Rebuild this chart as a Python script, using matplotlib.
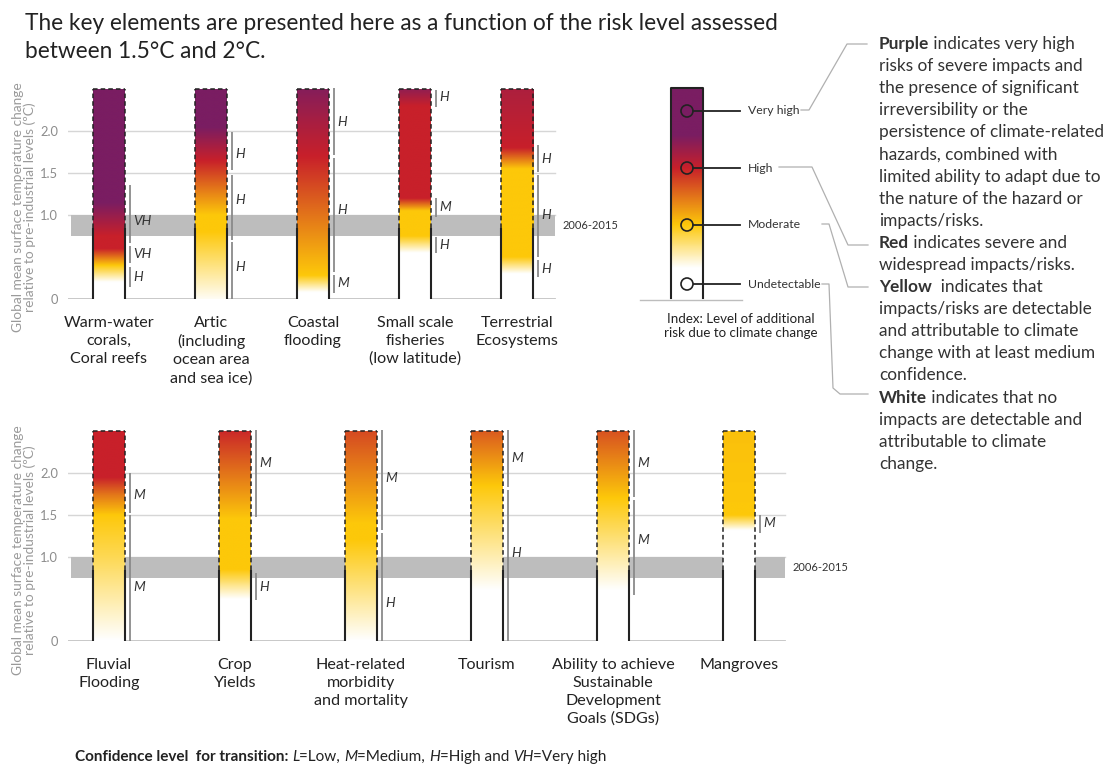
import numpy as np
import matplotlib
matplotlib.use('Agg')
import matplotlib.pyplot as plt
from matplotlib.colors import LinearSegmentedColormap
from matplotlib.patches import Circle

plt.rcParams['font.family'] = ['Lato', 'DejaVu Sans']

#-----------------------------------------------------------------------------------------------------------------------------------
# values
# risk level: 0 = white (undetectable), 1 = yellow (moderate), 2 = red (high), 3 = purple (very high)

risk_colors = ['#ffffff', '#fdc80a', '#c8202a', '#7a1d62']
risk_names = ['Undetectable', 'Moderate', 'High', 'Very high']

top_names = ['Warm-water\ncorals,\nCoral reefs', 'Artic\n(including\nocean area\nand sea ice)',
             'Coastal\nflooding', 'Small scale\nfisheries\n(low latitude)', 'Terrestrial\nEcosystems']
top_temp = [[0, 0.2, 0.4, 0.6, 0.75, 1.15, 2.5],
            [0, 0.8, 1.0, 1.65, 2.05, 2.5],
            [0, 0.08, 0.28, 0.5, 1.0, 1.7, 2.1, 2.5],
            [0, 0.55, 0.75, 1.05, 1.2, 2.3, 2.5],
            [0, 0.3, 0.5, 1.55, 1.8, 2.5]]
top_level = [[0, 0, 1, 2, 2, 3, 3],
             [0.05, 1, 1, 2, 3, 3],
             [0, 0, 1, 1.15, 1.5, 2, 2.4, 2.85],
             [0, 0, 1, 1, 2, 2, 2.7],
             [0, 0, 1, 1, 2, 2.35]]
# confidence of each transition: (from, to, label, label at)
top_conf = [[(0.67, 1.36, 'VH', 0.93), (0.43, 0.63, 'VH', 0.53), (0.14, 0.38, 'H', 0.26)],
            [(1.54, 1.99, 'H', 1.73), (0.70, 1.48, 'H', 1.18), (0.0, 0.68, 'H', 0.38)],
            [(1.71, 2.51, 'H', 2.11), (0.32, 1.68, 'H', 1.06), (0.07, 0.29, 'M', 0.19)],
            [(2.29, 2.49, 'H', 2.4), (0.98, 1.20, 'M', 1.09), (0.55, 0.74, 'H', 0.64)],
            [(1.51, 1.83, 'H', 1.67), (0.50, 1.48, 'H', 1.0), (0.26, 0.46, 'H', 0.36)]]

bot_names = ['Fluvial\nFlooding', 'Crop\nYields', 'Heat-related\nmorbidity\nand mortality', 'Tourism',
             'Ability to achieve\nSustainable\nDevelopment\nGoals (SDGs)', 'Mangroves']
bot_temp = [[0, 0.5, 1.0, 1.5, 1.75, 1.95, 2.5],
            [0, 0.5, 0.85, 1.45, 2.0, 2.5],
            [0, 1.2, 1.4, 2.5],
            [0, 0.6, 1.85, 2.5],
            [0, 0.6, 1.7, 2.5],
            [0, 1.32, 1.5, 2.5]]
bot_level = [[0, 0.35, 0.7, 1, 1.5, 2, 2],
             [0, 0, 1, 1, 1.5, 1.95],
             [0, 1, 1, 1.75],
             [0, 0, 1, 1.65],
             [0, 0, 1, 1.7],
             [0, 0, 1, 1.05]]
bot_conf = [[(1.52, 2.0, 'M', 1.74), (0.0, 1.50, 'M', 0.64)],
            [(1.48, 2.51, 'M', 2.12), (0.49, 0.81, 'H', 0.64)],
            [(1.32, 2.51, 'M', 1.94), (0.0, 1.29, 'H', 0.45)],
            [(1.83, 2.51, 'M', 2.18), (0.0, 1.80, 'H', 1.05)],
            [(1.71, 2.51, 'M', 2.12), (0.55, 1.68, 'M', 1.2)],
            [(1.29, 1.50, 'M', 1.4)]]

ref_band = (0.75, 1.0)        # 2006-2015 warming
ref_label = '2006-2015'
solid_below = 0.85            # outline solid below, dashed above
bar_top = 2.5
yticks = [0, 1.0, 1.5, 2.0]
yticklabels = ['0', '1.0', '1.5', '2.0']

#-----------------------------------------------------------------------------------------------------------------------------------

W, H = 1105, 767
PXDEG = 84.0
YMAX = 2.6
cmap = LinearSegmentedColormap.from_list('risk', risk_colors)
dash = (0, (3, 2))

fig = plt.figure(figsize=(W / 100, H / 100), dpi=100)
ov = fig.add_axes([0, 0, 1, 1])
ov.set_xlim(0, W)
ov.set_ylim(H, 0)
ov.axis('off')


def panel(left, right, zero, x0, spacing, band_right, names, temp, level, conf):
    ax = fig.add_axes([left / W, (H - zero) / H, (right - left) / W, YMAX * PXDEG / H])
    xl, xr = (left - x0) / spacing, (right - x0) / spacing
    px = 1.0 / spacing
    bw = 32 * px
    br = (band_right - x0) / spacing
    for g in yticks[1:]:
        ax.plot([xl, br], [g, g], color='#d6d6d6', lw=1, zorder=0)
    ax.plot([xl, br], [0, 0], color='#c4c4c4', lw=1.3, zorder=0)
    ax.fill_between([xl + 3 * px, br], ref_band[0], ref_band[1], color='#bdbdbd', lw=0, zorder=1)
    ax.text(br + 8 * px, np.mean(ref_band), ref_label, fontsize=8, color='#333333', va='center', ha='left')
    t = np.linspace(0, bar_top, 600)
    for i in range(len(names)):
        lv = np.interp(t, temp[i], level[i])
        ax.imshow(lv[:, None], extent=(i - bw / 2, i + bw / 2, 0, bar_top), origin='lower', aspect='auto',
                  cmap=cmap, vmin=0, vmax=3, zorder=2, interpolation='bilinear')
        for xe in (i - bw / 2, i + bw / 2):
            ax.plot([xe, xe], [0, solid_below], color='#222222', lw=1.5, zorder=3, solid_capstyle='butt')
            ax.plot([xe, xe], [solid_below, bar_top], color='#222222', lw=1.1, ls=dash, zorder=3)
        ax.plot([i - bw / 2, i + bw / 2], [bar_top, bar_top], color='#222222', lw=1.1, ls=dash, zorder=3)
        xc = i + bw / 2 + 5 * px
        for lo, hi, lab, at in conf[i]:
            ax.plot([xc, xc], [lo, hi], color='#8a8a8a', lw=1.3, zorder=3, solid_capstyle='butt')
            ax.text(xc + 3 * px, at, lab, style='italic', fontsize=9.8, color='#333333', va='center', ha='left')
        ax.text(i, -0.2, names[i], ha='center', va='top', fontsize=11.6, color='#222222', linespacing=1.36)
    ax.set_xlim(xl, xr)
    ax.set_ylim(0, YMAX)
    ax.set_xticks([])
    ax.set_yticks(yticks)
    ax.set_yticklabels(yticklabels)
    ax.tick_params(axis='y', length=0, pad=7, labelcolor='#8c8c8c', labelsize=9.3)
    for s in ax.spines.values():
        s.set_visible(False)
    ax.patch.set_alpha(0)
    return ax


panel(68, 560, 299, 109, 102, 555, top_names, top_temp, top_level, top_conf)
panel(68, 790, 641, 109, 126, 785, bot_names, bot_temp, bot_level, bot_conf)

ylab = 'Global mean surface temperature change\nrelative to pre-industrial levels (ºC)'
for yc in (207, 550):
    ov.text(24, yc, ylab, rotation=90, ha='center', va='center', fontsize=9.9, color='#9a9a9a', linespacing=1.0)

# legend: index bar
leg_y = np.linspace(88, 298, 400)
leg_lv = np.interp(leg_y, [88, 135, 168, 225, 268, 298], [3, 3, 2, 1, 0, 0])
ov.imshow(leg_lv[:, None], extent=(671, 703, 298, 88), origin='upper', aspect='auto', cmap=cmap, vmin=0, vmax=3,
          interpolation='bilinear', zorder=2)
ov.plot([671, 671, 703, 703], [298, 88, 88, 298], color='#222222', lw=1.5, zorder=3)
circle_y = [284, 225, 168, 111]
for k in range(4):
    y = circle_y[k]
    ov.add_patch(Circle((687, y), 6, fill=(k == 0), fc='white', ec='#222222', lw=1.2, zorder=4))
    ov.plot([693, 740], [y, y], color='#222222', lw=1.3, zorder=3)
    ov.text(748, y, risk_names[k], fontsize=8.8, color='#333333', va='center', ha='left')
ov.plot([640, 742], [300, 300], color='#bdbdbd', lw=1)
ov.text(741, 326, 'Index: Level of additional\nrisk due to climate change', fontsize=9.6, color='#222222',
        ha='center', va='center', linespacing=1.2)

leaders = [[(801, 110), (809, 110), (847, 44), (867, 44)],
           [(779, 167), (812, 167), (848, 245), (868, 245)],
           [(822, 224), (829, 224), (848, 287), (868, 287)],
           [(822, 284), (829, 284), (833, 388), (840, 394), (868, 394)]]
for pl in leaders:
    xs, ys = zip(*pl)
    ov.plot(xs, ys, color='#b0b0b0', lw=0.9)

r = fig.canvas.get_renderer()


def width(s, **kw):
    a = ov.text(0, 0, s + '|', **kw)
    b = ov.text(0, 0, '|', **kw)
    w = a.get_window_extent(renderer=r).width - b.get_window_extent(renderer=r).width
    a.remove()
    b.remove()
    return w


def rich(x, y, parts, **kw):
    for s, wgt, sty in parts:
        ov.text(x, y, s, fontweight=wgt, style=sty, **kw)
        x += width(s, fontweight=wgt, style=sty, **kw)


right_lines = [('Purple', ' indicates very high'), 'risks of severe impacts and', 'the presence of significant',
               'irreversibility or the', 'persistence of climate-related', 'hazards, combined with',
               'limited ability to adapt due to', 'the nature of the hazard or', 'impacts/risks.',
               ('Red', ' indicates severe and'), 'widespread impacts/risks.', ('Yellow', '  indicates that'),
               'impacts/risks are detectable', 'and attributable to climate', 'change with at least medium',
               'confidence.', ('White', ' indicates that no'), 'impacts are detectable and',
               'attributable to climate', 'change.']
tkw = dict(fontsize=12.4, color='#333333', va='center', ha='left')
for j, ln in enumerate(right_lines):
    y = 44 + 22.1 * j
    if isinstance(ln, tuple):
        rich(879, y, [(ln[0], 'bold', 'normal'), (ln[1], 'normal', 'normal')], **tkw)
    else:
        ov.text(879, y, ln, **tkw)

ov.text(25, 23, 'The key elements are presented here as a function of the risk level assessed',
        fontsize=16.3, color='#222222', va='center', ha='left')
ov.text(25, 51, 'between 1.5°C and 2°C.', fontsize=16.3, color='#222222', va='center', ha='left')

fkw = dict(fontsize=11, color='#222222', va='center', ha='left')
rich(75, 757, [('Confidence level  for transition: ', 'bold', 'normal'), ('L', 'normal', 'italic'),
               ('=Low, ', 'normal', 'normal'), ('M', 'normal', 'italic'), ('=Medium, ', 'normal', 'normal'),
               ('H', 'normal', 'italic'), ('=High and ', 'normal', 'normal'), ('VH', 'normal', 'italic'),
               ('=Very high', 'normal', 'normal')], **fkw)

plt.savefig('out.png', dpi=100)
